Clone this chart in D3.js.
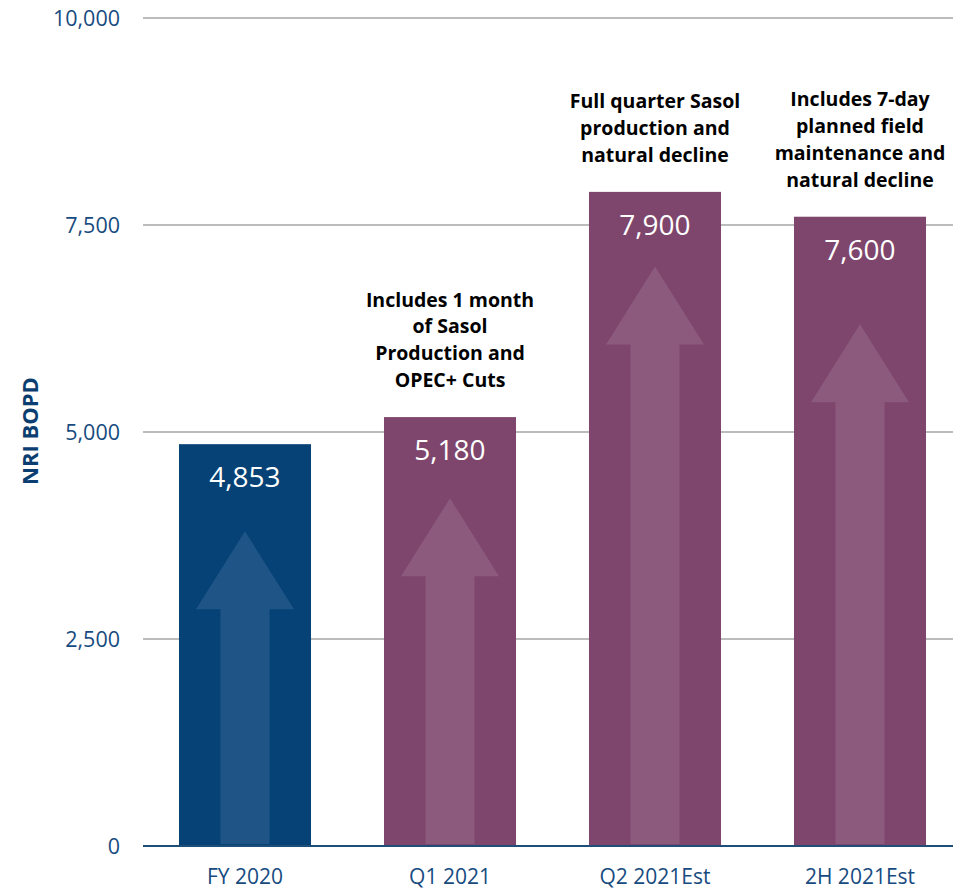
<!doctype html>
<html>
<head>
<meta charset="utf-8">
<script src="https://cdn.jsdelivr.net/npm/d3@7/dist/d3.min.js"></script>
<style>
  body { margin: 0; background: #fff; }
  svg { display: block; font-family: "Open Sans", sans-serif; }
  .grid line { stroke: #a6a6a6; stroke-width: 1.5; }
  .ytick text { fill: #174b7f; font-size: 21.5px; }
  .xtick text { fill: #174b7f; font-size: 21px; }
  .note { font-weight: bold; font-size: 19.5px; fill: #000; }
  .val { fill: #fff; font-size: 28px; }
</style>
</head>
<body>
<svg width="953" height="890"></svg>
<script>
// data
var categories = ["FY 2020", "Q1 2021", "Q2 2021Est", "2H 2021Est"];
var values = [4853, 5180, 7900, 7600];
var valueLabels = ["4,853", "5,180", "7,900", "7,600"];
var arrowTops = [3800, 4200, 7000, 6300];
var notes = [
  [],
  ["Includes 1 month", "of Sasol", "Production and", "OPEC+ Cuts"],
  ["Full quarter Sasol", "production and", "natural decline"],
  ["Includes 7-day", "planned field", "maintenance and", "natural decline"]
];
var yTicks = [0, 2500, 5000, 7500, 10000];

var barColors = ["#064275", "#7e466c", "#7e466c", "#7e466c"];
var arrowColors = ["#1f5487", "#8c5a7d", "#8c5a7d", "#8c5a7d"];

var svg = d3.select("svg");

//scales
var x = d3.scaleBand()
  .domain(categories)
  .range([142.5, 962.5])
  .paddingInner(0.356)
  .paddingOuter(0.178);
var y = d3.scaleLinear()
  .domain([0, 10000])
  .range([846, 18]);

//gridlines
var grid = svg.append("g").attr("class", "grid");
grid.selectAll("line")
  .data(yTicks.filter(function(d) { return d > 0; }))
  .enter().append("line")
  .attr("x1", 143).attr("x2", 953)
  .attr("y1", function(d) { return y(d); })
  .attr("y2", function(d) { return y(d); });

//y tick labels
var fmt = d3.format(",");
svg.append("g").attr("class", "ytick")
  .selectAll("text")
  .data(yTicks)
  .enter().append("text")
  .attr("x", 120)
  .attr("y", function(d) { return y(d); })
  .attr("dy", "0.35em")
  .attr("text-anchor", "end")
  .text(function(d) { return fmt(d); });

//bars
var bars = svg.append("g").selectAll("g")
  .data(categories)
  .enter().append("g");

bars.append("rect")
  .attr("x", function(d) { return x(d); })
  .attr("width", x.bandwidth())
  .attr("y", function(d, i) { return y(values[i]); })
  .attr("height", function(d, i) { return y(0) - y(values[i]); })
  .attr("fill", function(d, i) { return barColors[i]; });

//arrows inside the bars
var headH = 78, headW = 98, stemW = 49;
bars.append("path")
  .attr("fill", function(d, i) { return arrowColors[i]; })
  .attr("d", function(d, i) {
    var cx = x(d) + x.bandwidth() / 2;
    var top = y(arrowTops[i]);
    var bot = y(0) - 2;
    return "M" + cx + "," + top +
      "L" + (cx + headW / 2) + "," + (top + headH) +
      "L" + (cx + stemW / 2) + "," + (top + headH) +
      "L" + (cx + stemW / 2) + "," + bot +
      "L" + (cx - stemW / 2) + "," + bot +
      "L" + (cx - stemW / 2) + "," + (top + headH) +
      "L" + (cx - headW / 2) + "," + (top + headH) + "Z";
  });

//value labels
bars.append("text")
  .attr("class", "val")
  .attr("x", function(d) { return x(d) + x.bandwidth() / 2; })
  .attr("y", function(d, i) { return y(values[i]) + 43; })
  .attr("text-anchor", "middle")
  .text(function(d, i) { return valueLabels[i]; });

//annotations above bars
bars.each(function(d, i) {
  var lines = notes[i];
  var cx = x(d) + x.bandwidth() / 2;
  var last = y(values[i]) - 30;
  d3.select(this).selectAll("text.note")
    .data(lines)
    .enter().append("text")
    .attr("class", "note")
    .attr("x", cx)
    .attr("y", function(t, j) { return last - (lines.length - 1 - j) * 26.8; })
    .attr("text-anchor", "middle")
    .text(function(t) { return t; });
});

//zero axis line
svg.append("line")
  .attr("x1", 143).attr("x2", 953)
  .attr("y1", y(0)).attr("y2", y(0))
  .attr("stroke", "#1f4e79")
  .attr("stroke-width", 2);

//x labels
svg.append("g").attr("class", "xtick")
  .selectAll("text")
  .data(categories)
  .enter().append("text")
  .attr("x", function(d) { return x(d) + x.bandwidth() / 2; })
  .attr("y", 884)
  .attr("text-anchor", "middle")
  .text(function(d) { return d; });

//y axis title
svg.append("text")
  .attr("transform", "translate(38,431) rotate(-90)")
  .attr("text-anchor", "middle")
  .attr("font-weight", "bold")
  .attr("font-size", "22px")
  .attr("fill", "#0b3e70")
  .text("NRI BOPD");
</script>
</body>
</html>
